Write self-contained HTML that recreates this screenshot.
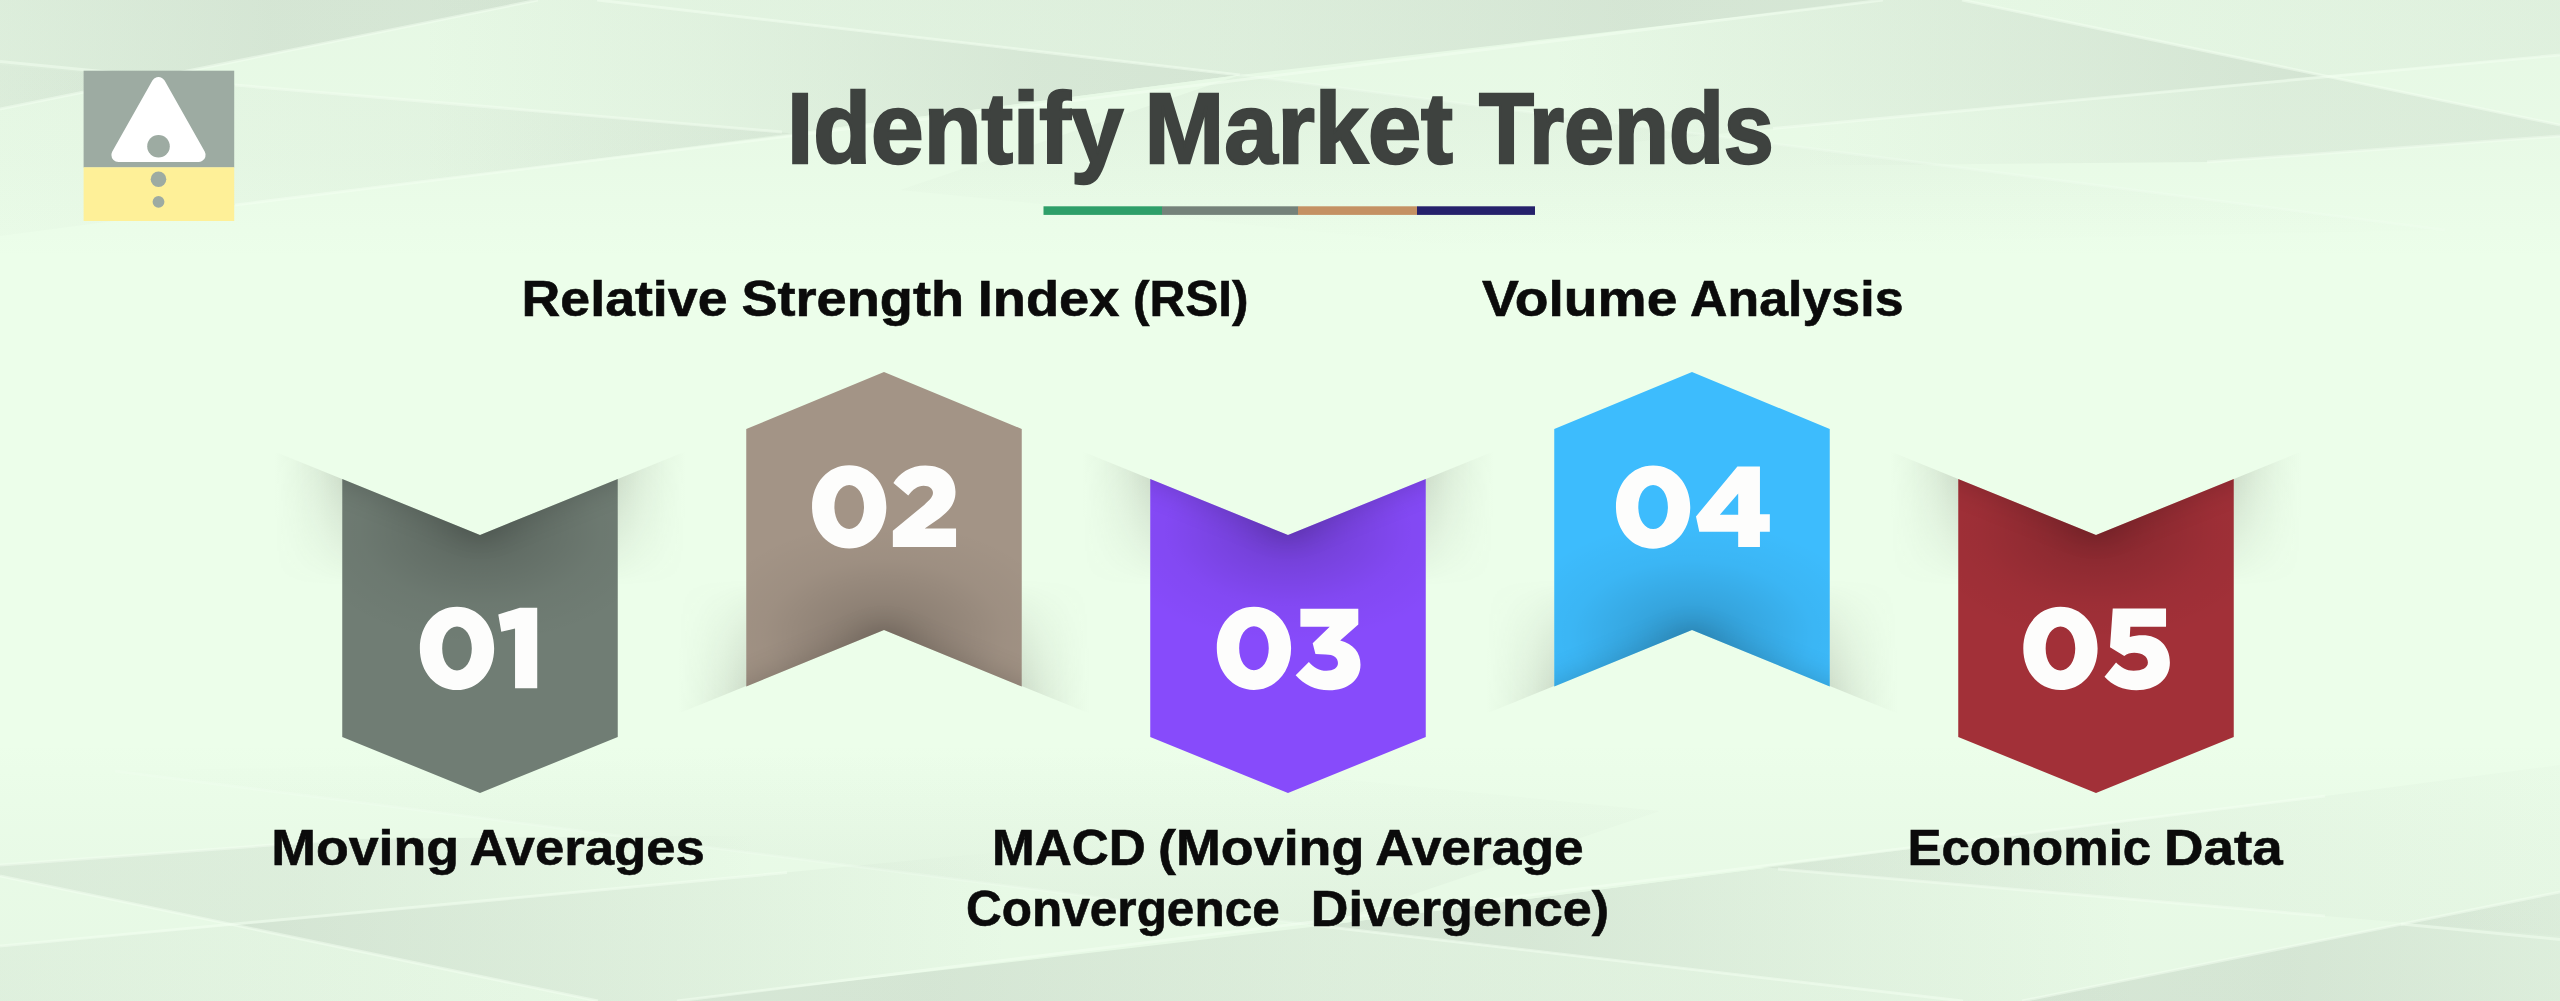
<!DOCTYPE html>
<html lang="en">
<head>
<meta charset="utf-8">
<title>Identify Market Trends</title>
<style>
  html, body { margin: 0; padding: 0; background: #ecfeea; }
  body { width: 2560px; height: 1001px; overflow: hidden; font-family: "Liberation Sans", sans-serif; }
  svg { display: block; position: absolute; left: 0; top: 0; }
  text { font-family: "Liberation Sans", sans-serif; font-weight: bold; }
</style>
</head>
<body>
<svg width="2560" height="1001" viewBox="0 0 2560 1001">
  <defs>
    <!-- background fades -->
    <linearGradient id="topFade" x1="0" y1="0" x2="0" y2="1">
      <stop offset="0" stop-color="#c9d8c9" stop-opacity="0.75"/>
      <stop offset="0.55" stop-color="#d6e6d5" stop-opacity="0.35"/>
      <stop offset="1" stop-color="#ecfeea" stop-opacity="0"/>
    </linearGradient>
    <linearGradient id="botFade" x1="0" y1="1" x2="0" y2="0">
      <stop offset="0" stop-color="#cfdfce" stop-opacity="0.7"/>
      <stop offset="0.6" stop-color="#d9e9d8" stop-opacity="0.3"/>
      <stop offset="1" stop-color="#ecfeea" stop-opacity="0"/>
    </linearGradient>
    <filter id="blurF" x="-30%" y="-30%" width="160%" height="160%"><feGaussianBlur stdDeviation="15"/></filter>
    <filter id="blur6" x="-20%" y="-20%" width="140%" height="140%"><feGaussianBlur stdDeviation="6"/></filter>


    <!-- background wedge gradients (userSpace, horizontal) -->
    <linearGradient id="gA" gradientUnits="userSpaceOnUse" x1="0" y1="0" x2="540" y2="0">
      <stop offset="0" stop-color="#78847c" stop-opacity="0.09"/>
      <stop offset="0.5" stop-color="#78847c" stop-opacity="0.16"/>
      <stop offset="1" stop-color="#78847c" stop-opacity="0.15"/>
    </linearGradient>
    <linearGradient id="gB" gradientUnits="userSpaceOnUse" x1="420" y1="0" x2="1240" y2="0">
      <stop offset="0" stop-color="#78847c" stop-opacity="0"/>
      <stop offset="0.35" stop-color="#78847c" stop-opacity="0.06"/>
      <stop offset="0.75" stop-color="#78847c" stop-opacity="0.15"/>
      <stop offset="1" stop-color="#78847c" stop-opacity="0.17"/>
    </linearGradient>
    <linearGradient id="gC" gradientUnits="userSpaceOnUse" x1="600" y1="0" x2="1883" y2="0">
      <stop offset="0" stop-color="#78847c" stop-opacity="0.03"/>
      <stop offset="0.5" stop-color="#78847c" stop-opacity="0.09"/>
      <stop offset="0.8" stop-color="#78847c" stop-opacity="0.16"/>
      <stop offset="1" stop-color="#78847c" stop-opacity="0.15"/>
    </linearGradient>
    <linearGradient id="gD" gradientUnits="userSpaceOnUse" x1="1550" y1="0" x2="2325" y2="0">
      <stop offset="0" stop-color="#78847c" stop-opacity="0"/>
      <stop offset="0.45" stop-color="#78847c" stop-opacity="0.08"/>
      <stop offset="1" stop-color="#78847c" stop-opacity="0.18"/>
    </linearGradient>
    <linearGradient id="gE" gradientUnits="userSpaceOnUse" x1="1800" y1="0" x2="2560" y2="0">
      <stop offset="0" stop-color="#78847c" stop-opacity="0"/>
      <stop offset="0.6" stop-color="#78847c" stop-opacity="0.10"/>
      <stop offset="1" stop-color="#78847c" stop-opacity="0.12"/>
    </linearGradient>
    <linearGradient id="gF" gradientUnits="userSpaceOnUse" x1="1951" y1="0" x2="2560" y2="0">
      <stop offset="0" stop-color="#78847c" stop-opacity="0"/>
      <stop offset="1" stop-color="#78847c" stop-opacity="0.07"/>
    </linearGradient>
    <linearGradient id="gG" gradientUnits="userSpaceOnUse" x1="0" y1="0" x2="800" y2="0">
      <stop offset="0" stop-color="#78847c" stop-opacity="0.02"/>
      <stop offset="0.6" stop-color="#78847c" stop-opacity="0.055"/>
      <stop offset="1" stop-color="#78847c" stop-opacity="0.08"/>
    </linearGradient>
    <linearGradient id="gH" gradientUnits="userSpaceOnUse" x1="0" y1="80" x2="0" y2="250">
      <stop offset="0" stop-color="#78847c" stop-opacity="0.06"/>
      <stop offset="1" stop-color="#78847c" stop-opacity="0"/>
    </linearGradient>
    <linearGradient id="gTop" gradientUnits="userSpaceOnUse" x1="0" y1="0" x2="0" y2="260">
      <stop offset="0" stop-color="#78847c" stop-opacity="0.05"/>
      <stop offset="0.6" stop-color="#78847c" stop-opacity="0.03"/>
      <stop offset="1" stop-color="#78847c" stop-opacity="0"/>
    </linearGradient>
    <g id="bgTop">
      <rect x="0" y="0" width="2560" height="260" fill="url(#gTop)"/>
      <polygon points="0,0 538,0 0,109" fill="url(#gA)"/>
      <polygon points="597,0 1240,75 420,182 420,0" fill="url(#gB)" clip-path="url(#clipB)"/>
      <polygon points="597,0 1240,75 1883,0" fill="url(#gC)"/>
      <polygon points="235,85 800,134 235,205 0,236 0,65" fill="url(#gG)"/>
      <polygon points="1240,75 2445,230 1500,250 900,190" fill="url(#gH)"/>
      <polygon points="1883,0 1962,0 2325,76 1550,150 1550,40.5" fill="url(#gD)"/>
      <polygon points="1773,128.5 2325,76 2560,125 2560,136 2207,162 1773,166" fill="url(#gE)"/>
      <polygon points="1962,0 2560,0 2560,55 2325,76" fill="url(#gF)"/>
      <g stroke="#f4fff2" stroke-width="3" stroke-opacity="0.5" fill="none">
        <line x1="0" y1="61.5" x2="159" y2="77"/>
        <line x1="0" y1="109" x2="538" y2="0"/>
        <line x1="597" y1="0" x2="1240" y2="75"/>
        <line x1="235" y1="205" x2="1883" y2="0" stroke-opacity="0.5"/>
        <line x1="235" y1="85" x2="782" y2="132" stroke-opacity="0.45"/>
        <line x1="1962" y1="0" x2="2560" y2="125"/>
        <line x1="1773" y1="128.5" x2="2560" y2="55"/>
        <line x1="2207" y1="162" x2="2560" y2="136" stroke-opacity="0.45"/>
        <line x1="1240" y1="75" x2="2445" y2="230" stroke-opacity="0.25"/>
      </g>
    </g>
    <clipPath id="clipB"><polygon points="420,0 597,0 1240,75 420,182"/></clipPath>

    <!-- ribbon pieces, defined around centre x=0 -->
    <polygon id="ribDown" points="-137.75,479 0,535 137.75,479 137.75,737 0,793 -137.75,737"/>
    <polygon id="ribUp" points="-137.75,429 0,372 137.75,429 137.75,686.5 0,630 -137.75,686.5"/>
    <clipPath id="clipDown"><use href="#ribDown"/></clipPath>
    <clipPath id="clipUp"><use href="#ribUp"/></clipPath>
    <!-- region under the fold line (down ribbons) / above it (up ribbons) -->
    <clipPath id="underFold"><polygon points="-230,441.5 0,535 230,441.5 230,700 -230,700"/></clipPath>
    <clipPath id="overFold"><polygon points="-230,723.5 0,630 230,723.5 230,480 -230,480"/></clipPath>

    <!-- outer shadow gradients -->
    <linearGradient id="shL" x1="0" y1="0" x2="1" y2="0">
      <stop offset="0" stop-color="#5a5f50" stop-opacity="0"/>
      <stop offset="0.3" stop-color="#5a5f50" stop-opacity="0.04"/>
      <stop offset="0.65" stop-color="#5a5f50" stop-opacity="0.12"/>
      <stop offset="1" stop-color="#5a5f50" stop-opacity="0.25"/>
    </linearGradient>
    <linearGradient id="shR" x1="1" y1="0" x2="0" y2="0">
      <stop offset="0" stop-color="#5a5f50" stop-opacity="0"/>
      <stop offset="0.3" stop-color="#5a5f50" stop-opacity="0.04"/>
      <stop offset="0.65" stop-color="#5a5f50" stop-opacity="0.12"/>
      <stop offset="1" stop-color="#5a5f50" stop-opacity="0.25"/>
    </linearGradient>
    <linearGradient id="fadeDownMask" x1="0" y1="0" x2="0" y2="1">
      <stop offset="0" stop-color="#fff" stop-opacity="1"/>
      <stop offset="1" stop-color="#fff" stop-opacity="0"/>
    </linearGradient>
    <linearGradient id="fadeUpMask" x1="0" y1="1" x2="0" y2="0">
      <stop offset="0" stop-color="#fff" stop-opacity="1"/>
      <stop offset="1" stop-color="#fff" stop-opacity="0"/>
    </linearGradient>
    <mask id="mDown" maskUnits="userSpaceOnUse" x="-240" y="430" width="480" height="200">
      <rect x="-240" y="450" width="480" height="135" fill="url(#fadeDownMask)"/>
    </mask>
    <mask id="mUp" maskUnits="userSpaceOnUse" x="-240" y="560" width="480" height="200">
      <rect x="-240" y="580" width="480" height="135" fill="url(#fadeUpMask)"/>
    </mask>

    <!-- inner shading -->
    <radialGradient id="inDown" gradientUnits="userSpaceOnUse" cx="0" cy="530" r="185" gradientTransform="translate(0,530) scale(1,0.62) translate(0,-530)">
      <stop offset="0" stop-color="#000" stop-opacity="0.21"/>
      <stop offset="0.3" stop-color="#000" stop-opacity="0.12"/>
      <stop offset="0.65" stop-color="#000" stop-opacity="0.035"/>
      <stop offset="1" stop-color="#000" stop-opacity="0"/>
    </radialGradient>
    <radialGradient id="inUp" gradientUnits="userSpaceOnUse" cx="0" cy="635" r="185" gradientTransform="translate(0,635) scale(1,0.62) translate(0,-635)">
      <stop offset="0" stop-color="#000" stop-opacity="0.21"/>
      <stop offset="0.3" stop-color="#000" stop-opacity="0.12"/>
      <stop offset="0.65" stop-color="#000" stop-opacity="0.035"/>
      <stop offset="1" stop-color="#000" stop-opacity="0"/>
    </radialGradient>

    <!-- a complete down ribbon (shadow + body + shading); colour via currentColor -->
    <g id="downRibbon">
      <g clip-path="url(#underFold)">
        <g mask="url(#mDown)">
          <rect x="-206" y="430" width="68.5" height="180" fill="url(#shL)"/>
          <rect x="137.5" y="430" width="68.5" height="180" fill="url(#shR)"/>
        </g>
      </g>
      <use href="#ribDown" fill="currentColor"/>
      <g clip-path="url(#clipDown)"><rect x="-140" y="470" width="280" height="200" fill="url(#inDown)"/><polygon points="-220,380 220,380 220,445.6 0,535 -220,445.6" fill="#000" opacity="0.19" filter="url(#blurF)"/></g>
    </g>
    <g id="upRibbon">
      <g clip-path="url(#overFold)">
        <g mask="url(#mUp)">
          <rect x="-206" y="560" width="68.5" height="180" fill="url(#shL)"/>
          <rect x="137.5" y="560" width="68.5" height="180" fill="url(#shR)"/>
        </g>
      </g>
      <use href="#ribUp" fill="currentColor"/>
      <g clip-path="url(#clipUp)"><rect x="-140" y="500" width="280" height="200" fill="url(#inUp)"/><polygon points="-220,790 220,790 220,719.4 0,630 -220,719.4" fill="#000" opacity="0.19" filter="url(#blurF)"/></g>
    </g>
  </defs>

  <!-- ===== background ===== -->
  <rect width="2560" height="1001" fill="#ecfeea"/>
  <g id="bg">
    <use href="#bgTop"/>
    <use href="#bgTop" transform="rotate(180 1280 500.5)"/>
  </g>

  <!-- ===== logo ===== -->
  <g id="logo">
    <rect x="83.6" y="70.7" width="150.6" height="96.8" fill="#9daba2"/>
    <rect x="83.6" y="167.3" width="150.6" height="53.7" fill="#fef098"/>
    <path d="M158.5,84 L198.6,155 L118.4,155 Z" fill="#ffffff" stroke="#ffffff" stroke-width="14" stroke-linejoin="round"/>
    <circle cx="158.5" cy="146.3" r="11.3" fill="#9daba2"/>
    <circle cx="158.5" cy="179.2" r="7.8" fill="#9daba2"/>
    <circle cx="158.5" cy="201.8" r="5.9" fill="#9daba2"/>
  </g>

  <!-- ===== title ===== -->
  <g id="title">
    <g font-size="100" fill="#3e423f" stroke="#3e423f" stroke-width="2.4" stroke-linejoin="miter" lengthAdjust="spacingAndGlyphs">
      <text x="787" y="162.8" textLength="336.3" lengthAdjust="spacingAndGlyphs">Identify</text>
      <text x="1144.5" y="162.8" textLength="308.5" lengthAdjust="spacingAndGlyphs">Market</text>
      <text x="1479" y="162.8" textLength="294.9" lengthAdjust="spacingAndGlyphs">Trends</text>
    </g>
    <rect x="1043.5" y="206.3" width="118.7" height="8.6" fill="#2e9f69"/>
    <rect x="1162" y="206.3" width="136.2" height="8.6" fill="#75827a"/>
    <rect x="1298" y="206.3" width="119.2" height="8.6" fill="#c49163"/>
    <rect x="1417" y="206.3" width="118" height="8.6" fill="#25216b"/>
  </g>

  <!-- ===== ribbons ===== -->
  <g id="ribbons">
    <use href="#downRibbon" transform="translate(480,0)" color="#707d74"/>
    <use href="#upRibbon" transform="translate(884,0)" color="#a39486"/>
    <use href="#downRibbon" transform="translate(1288,0)" color="#874bfb"/>
    <use href="#upRibbon" transform="translate(1692,0)" color="#3dbcfd"/>
    <use href="#downRibbon" transform="translate(2096,0)" color="#a23038"/>
  </g>

  <!-- ===== numbers ===== -->
  <g id="numbers" fill="#fdfdfc" fill-rule="evenodd">
    <defs><path id="d0" d="M-37.15,0.00 C-37.15,-23.71 -21.18,-41.60 0.00,-41.60 C21.18,-41.60 37.15,-23.71 37.15,0.00 C37.15,23.71 21.18,41.60 0.00,41.60 C-21.18,41.60 -37.15,23.71 -37.15,0.00 Z M-14.80,0.00 C-14.80,-12.54 -8.44,-22.00 0.00,-22.00 C8.44,-22.00 14.80,-12.54 14.80,0.00 C14.80,12.54 8.44,22.00 0.00,22.00 C-8.44,22.00 -14.80,12.54 -14.80,0.00 Z"/></defs>
    <use href="#d0" x="457" y="648.4"/>
    <use href="#d0" x="849.2" y="506.9"/>
    <use href="#d0" x="1253.95" y="648.35"/>
    <use href="#d0" x="1653.1" y="507.05"/>
    <use href="#d0" x="2060.45" y="648.45"/>
    <!-- 1 -->
    <g transform="translate(400,590) scale(0.119847)">
      <path d="M1000,148 L1145,148 L1145,820 L960,820 L960,322 L845,348 L820,205 Z"/>
    </g>
    <!-- 2 -->
    <g transform="translate(800,450) scale(0.10989)">
      <path d="M850,300 C900,210 1010,140 1140,140 C1310,140 1415,240 1415,380 C1415,480 1370,545 1270,620 L1135,715 L1420,715 L1420,882 L845,882 L845,735 L1130,500 C1190,450 1210,420 1210,390 C1210,350 1175,325 1125,325 C1070,325 1025,360 985,415 Z"/>
    </g>
    <!-- 3 -->
    <g transform="translate(1205,590) scale(0.10989)">
      <path d="M868,170 L1395,170 L1395,315 L1230,460 C1350,490 1415,570 1415,680 C1415,820 1300,912 1130,912 C1000,912 900,860 825,775 L945,655 C990,705 1040,735 1105,735 C1170,735 1210,710 1210,665 C1210,615 1170,587 1100,587 L1005,582 L980,485 L1135,335 L868,335 Z"/>
    </g>
    <!-- 4 -->
    <g transform="translate(1605,450) scale(0.10989)">
      <path d="M1205,150 L1410,150 L1410,585 L1500,585 L1500,745 L1410,745 L1410,882 L1212,882 L1212,745 L858,745 L828,605 Z M1212,395 L1212,590 L1045,590 Z"/>
    </g>
    <!-- 5 -->
    <g transform="translate(2010,590) scale(0.10989)">
      <path d="M935,168 L1420,168 L1420,335 L1095,335 L1090,428 C1125,418 1165,412 1205,412 C1355,412 1455,510 1455,660 C1455,810 1335,912 1150,912 C1030,912 930,870 860,790 L965,660 C1010,705 1060,735 1125,735 C1200,735 1255,710 1255,660 C1255,605 1205,570 1130,570 C1095,570 1065,580 1040,600 L910,520 Z"/>
    </g>
  </g>

  <!-- ===== labels ===== -->
  <g id="labels" fill="#0b0b0b" font-size="50" stroke="#0b0b0b" stroke-width="0.6">
    <text x="521.6" y="315.9" textLength="205.9" lengthAdjust="spacingAndGlyphs">Relative</text>
    <text x="741.4" y="315.9" textLength="222.6" lengthAdjust="spacingAndGlyphs">Strength</text>
    <text x="977.7" y="315.9" textLength="141.7" lengthAdjust="spacingAndGlyphs">Index</text>
    <text x="1133.0" y="315.9" textLength="115.6" lengthAdjust="spacingAndGlyphs">(RSI)</text>
    <text x="1482.1" y="315.9" textLength="195.3" lengthAdjust="spacingAndGlyphs">Volume</text>
    <text x="1690.1" y="315.9" textLength="213.4" lengthAdjust="spacingAndGlyphs">Analysis</text>
    <text x="271.2" y="864.8" textLength="187.9" lengthAdjust="spacingAndGlyphs">Moving</text>
    <text x="469.5" y="864.8" textLength="235.3" lengthAdjust="spacingAndGlyphs">Averages</text>
    <text x="992.1" y="864.8" textLength="153.8" lengthAdjust="spacingAndGlyphs">MACD</text>
    <text x="1158.0" y="864.8" textLength="206.4" lengthAdjust="spacingAndGlyphs">(Moving</text>
    <text x="1375.2" y="864.8" textLength="208.4" lengthAdjust="spacingAndGlyphs">Average</text>
    <text x="966.1" y="926.4" textLength="313.6" lengthAdjust="spacingAndGlyphs">Convergence</text>
    <text x="1310.8" y="926.4" textLength="298.2" lengthAdjust="spacingAndGlyphs">Divergence)</text>
    <text x="1907.4" y="864.8" textLength="243.8" lengthAdjust="spacingAndGlyphs">Economic</text>
    <text x="2164.0" y="864.8" textLength="118.7" lengthAdjust="spacingAndGlyphs">Data</text>
  </g>
</svg>
</body>
</html>
